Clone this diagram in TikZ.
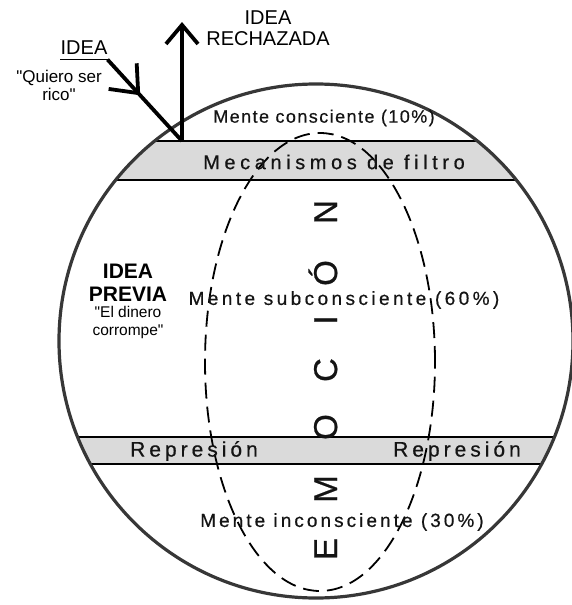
\documentclass[tikz,border=0pt]{standalone}
\usepackage{fontspec}
\setmainfont{Liberation Sans}[Ligatures=TeXOff]
\usetikzlibrary{arrows.meta,decorations.markings}
\definecolor{bandgray}{RGB}{218,218,218}
\definecolor{ink}{RGB}{20,20,20}
\definecolor{rim}{RGB}{55,55,55}
\begin{document}
\begin{tikzpicture}[x=1pt,y=-1pt,
  lbl/.style={inner sep=0pt, text=ink},
  thickarrow/.style={line width=3.8pt, black},
  bandline/.style={line width=1.4pt, black},
]
\useasboundingbox (0,0) rectangle (572,605);
% bands clipped to the circle
\begin{scope}
  \clip (316,341) circle[radius=257pt];
  \fill[bandgray] (0,141) rectangle (572,180);
  \fill[bandgray] (0,437) rectangle (572,464);
  \draw[bandline] (0,141) -- (572,141) (0,180) -- (572,180)
                  (0,437) -- (572,437) (0,464) -- (572,464);
\end{scope}
% outer circle
\draw[line width=3.2pt, rim] (316,341) circle[radius=257pt];
% emotion ellipse
\draw[line width=1.8pt, black, dash pattern=on 16pt off 8pt] (320,362) ellipse[x radius=115pt, y radius=229pt];

% EMOCION letters
\foreach \l/\yy [count=\i] in {E/549, M/489, O/427, C/370, I/320, Ó/273, N/212}
  \node[lbl, rotate=90, anchor=base, font={\fontsize{33}{33}\selectfont\addfontfeature{FakeBold=0.6}}] (emo\i) at (337,\yy) {\l};

% texts in the circle
\node[lbl, font={\fontsize{18}{18}\selectfont\addfontfeature{LetterSpace=8,FakeBold=0.5}}] (conc) at (324,118) {Mente consciente (10\%)};
\node[lbl, font={\fontsize{20}{20}\selectfont\addfontfeature{LetterSpace=23,FakeBold=0.5}}] (filt) at (334,162) {Mecanismos de filtro};
\node[lbl, font={\fontsize{19}{19}\selectfont\addfontfeature{LetterSpace=18,FakeBold=0.5}}] (subc) at (344,300) {Mente subconsciente (60\%)};
\node[lbl, font={\fontsize{21}{21}\selectfont\addfontfeature{LetterSpace=19,FakeBold=0.5}}] (rep1) at (194,451) {Represión};
\node[lbl, font={\fontsize{21}{21}\selectfont\addfontfeature{LetterSpace=19,FakeBold=0.5}}] (rep2) at (457,451) {Represión};
\node[lbl, font={\fontsize{19}{19}\selectfont\addfontfeature{LetterSpace=16,FakeBold=0.5}}] (inco) at (342,522) {Mente inconsciente (30\%)};

% idea previa
\node[lbl, text=black, align=center, font={\fontsize{21}{23}\selectfont\bfseries}] (prev) at (128,283) {IDEA\\PREVIA};
\node[lbl, text=black, align=center, font={\fontsize{15.5}{18}\selectfont}] (prevq) at (128,322) {"El dinero\\corrompe"};

% top labels
\node[lbl, text=black, font={\fontsize{20}{20}\selectfont}] (idea) at (84,48) {IDEA};
\node[lbl, text=black, align=center, font={\fontsize{17}{18}\selectfont}] (quiero) at (59,85) {"Quiero ser\\rico"};
\node[lbl, text=black, align=center, font={\fontsize{20}{21}\selectfont}] (rech) at (268,28.5) {IDEA\\RECHAZADA};

\coordinate (ulw) at ([yshift=-4.5pt]idea.south west);
\coordinate (ul) at ([yshift=-4.5pt]idea.south east);
\draw[line width=1pt, black] (ulw) -- (ul);
\coordinate (entry) at (182,141);
\coordinate (out) at (182,22);

\draw[thickarrow, postaction={decorate},
  decoration={markings, mark=at position 0.44 with {\arrow{Straight Barb[length=23pt,width=38pt]}}}]
  (ul) -- (entry);
\draw[thickarrow, -{Straight Barb[length=19pt,width=32pt]}] (entry) -- (out);
\end{tikzpicture}
\end{document}
